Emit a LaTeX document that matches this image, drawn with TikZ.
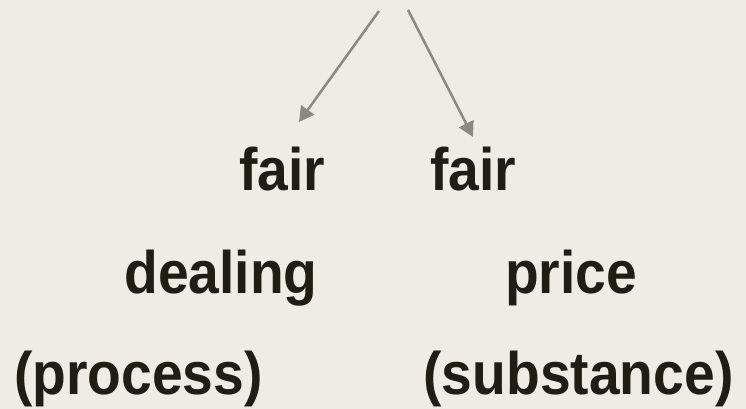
\documentclass[tikz,border=0pt]{standalone}
\usepackage{fontspec}
\setmainfont[FakeStretch=0.92]{Liberation Sans}
\usetikzlibrary{arrows.meta}
\definecolor{bgcol}{HTML}{EFECE3}
\definecolor{txtcol}{HTML}{1E1E12}
\definecolor{arrcol}{HTML}{8A8A82}
\tikzset{
  word/.style={anchor=base, inner sep=0pt, text=txtcol, font=\fontsize{60}{72}\selectfont\bfseries},
  pointer/.style={draw=arrcol, line width=2.5pt, -{Triangle[length=15pt,width=16pt]}}
}
\begin{document}
\begin{tikzpicture}[x=1pt,y=-1pt]
\path[fill=bgcol, use as bounding box] (0,0) rectangle (746,409);
\node[word] (fairL) at (282,190) {fair};
\node[word] (fairR) at (473.5,190) {fair};
\node[word] (dealing) at (221,293) {dealing};
\node[word] (price) at (571,293) {price};
\node[word] (process) at (138.5,394) {(process)};
\node[word] (substance) at (578.5,394) {(substance)};
\coordinate (startL) at (379,11);
\coordinate (tipL) at (299,122);
\coordinate (startR) at (408,10);
\coordinate (tipR) at (473,137);
\draw[pointer] (startL) -- (tipL);
\draw[pointer] (startR) -- (tipR);
\end{tikzpicture}
\end{document}
